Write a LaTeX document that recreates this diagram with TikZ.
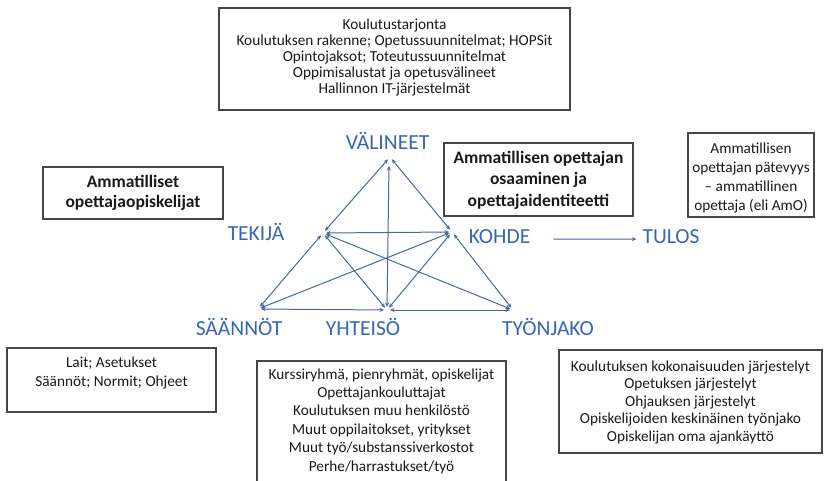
\documentclass[tikz,border=0pt]{standalone}
\usepackage{fontspec}
\setmainfont{Carlito}
\usetikzlibrary{arrows.meta}
\definecolor{lblblue}{RGB}{52,104,178}
\definecolor{lnblue}{RGB}{68,104,165}
\definecolor{boxgray}{RGB}{70,70,70}
\begin{document}
\begin{tikzpicture}[x=1pt,y=-1pt,
  box/.style={draw=boxgray,line width=1.1pt},
  txt/.style={inner sep=0pt,align=center,text=black!90},
  body/.style={font=\fontsize{15.3}{#1}\selectfont},
  bodybold/.style={font=\fontsize{17.5}{#1}\selectfont\bfseries},
  lbl/.style={inner sep=0pt,anchor=base,text=lblblue,font=\fontsize{21.5}{24}\selectfont},
  rel/.style={draw=lnblue,line width=1pt,{Stealth[length=4.5pt,width=4pt]}-{Stealth[length=4.5pt,width=4pt]},shorten <=3pt,shorten >=3pt},
  res/.style={draw=lnblue,line width=1pt,-{Stealth[length=4.5pt,width=4pt]}}]
\useasboundingbox (0,0) rectangle (826,480);
% boxes
\draw[box] (219,8) rectangle (570,110);
\node[txt,body=16] (bxtop) at (394.5,57) {Koulutustarjonta\\Koulutuksen rakenne; Opetussuunnitelmat; HOPSit\\Opintojaksot; Toteutussuunnitelmat\\Oppimisalustat ja opetusvälineet\\Hallinnon IT-järjestelmät};
\draw[box] (43,167) rectangle (223,219);
\node[txt,bodybold=20.5] (bxleft) at (133,193) {Ammatilliset\\opettajaopiskelijat};
\draw[box] (444,143) rectangle (633,216);
\node[txt,bodybold=21.5] (bxmid) at (538.5,180) {Ammatillisen opettajan\\osaaminen ja\\opettajaidentiteetti};
\draw[box] (688,133) rectangle (814,217);
\node[txt,body=19] (bxres) at (751,178) {Ammatillisen\\opettajan pätevyys\\– ammatillinen\\opettaja (eli AmO)};
\draw[box] (7,348) rectangle (216,412);
\node[txt,body=19] (bxrules) at (111.5,372.5) {Lait; Asetukset\\Säännöt; Normit; Ohjeet};
\draw[box] (257,361) rectangle (506,495);
\node[txt,body=18.4] (bxcomm) at (381.5,421) {Kurssiryhmä, pienryhmät, opiskelijat\\Opettajankouluttajat\\Koulutuksen muu henkilöstö\\Muut oppilaitokset, yritykset\\Muut työ/substanssiverkostot\\Perhe/harrastukset/työ};
\draw[box] (559,350) rectangle (822,453);
\node[txt,body=17.5] (bxdiv) at (690.5,402) {Koulutuksen kokonaisuuden järjestelyt\\Opetuksen järjestelyt\\Ohjauksen järjestelyt\\Opiskelijoiden keskinäinen työnjako\\Opiskelijan oma ajankäyttö};
% labels
\node[lbl] (lv) at (387.5,149) {VÄLINEET};
\node[lbl] (lt) at (256,240) {TEKIJÄ};
\node[lbl] (lk) at (499.5,243) {KOHDE};
\node[lbl] (lr) at (671,243) {TULOS};
\node[lbl] (ls) at (239,335) {SÄÄNNÖT};
\node[lbl] (ly) at (363,335) {YHTEISÖ};
\node[lbl] (lw) at (548,335) {TYÖNJAKO};
% vertices
\coordinate (V) at (390,157);
\coordinate (T) at (323,233);
\coordinate (K) at (452,232);
\coordinate (Y) at (387,310);
\coordinate (W) at (513,310);
\coordinate (S) at (258,309);
\coordinate (Vb) at (389,163);
% relations
\draw[rel] (V) -- (T);
\draw[rel] (V) -- (K);
\draw[rel] (Vb) -- (Y);
\draw[rel] (T) -- (K);
\draw[rel] (T) -- (S);
\draw[rel] (T) -- (Y);
\draw[rel] (T) -- (W);
\draw[rel] (K) -- (S);
\draw[rel] (K) -- (Y);
\draw[rel] (K) -- (W);
\draw[rel] (S) -- (Y);
\draw[rel] (Y) -- (W);
\draw[res,shorten <=23pt,shorten >=6pt] ([yshift=-3pt]lk.east) -- ([yshift=-3pt]lr.west);
\end{tikzpicture}
\end{document}
